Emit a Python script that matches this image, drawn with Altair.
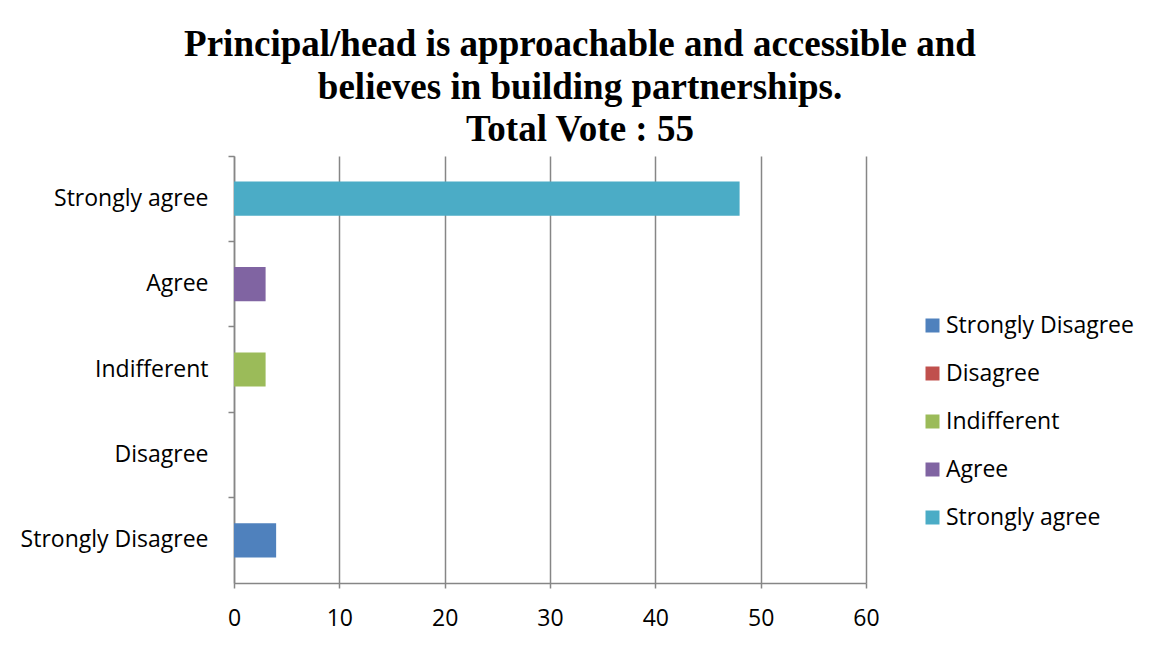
import altair as alt
import pandas as pd

categories = ["Strongly Disagree", "Disagree", "Indifferent", "Agree", "Strongly agree"]
votes = [4, 0, 3, 3, 48]
colors = ["#4F81BD", "#C0504D", "#9BBB59", "#8064A2", "#4BACC6"]
x_ticks = [0, 10, 20, 30, 40, 50, 60]
title_lines = [
    "Principal/head is approachable and accessible and",
    "believes in building partnerships.",
    "Total Vote : 55",
]

df = pd.DataFrame({"category": categories, "votes": votes})

LABEL_FONT = "Open Sans"
GRAY = "#868686"

chart = (
    alt.Chart(df)
    .mark_bar(height=alt.RelativeBandSize(0.4))
    .encode(
        x=alt.X(
            "votes:Q",
            scale=alt.Scale(domain=[0, 60], nice=False),
            axis=alt.Axis(
                values=x_ticks,
                title=None,
                grid=True,
                gridColor=GRAY,
                gridWidth=1.5,
                domainColor=GRAY,
                domainWidth=1.5,
                tickColor=GRAY,
                tickWidth=1.5,
                tickSize=5,
                labelFont=LABEL_FONT,
                labelFontSize=23,
                labelColor="black",
                labelPadding=19,
                labelFlush=False,
            ),
        ),
        y=alt.Y(
            "category:N",
            sort=categories[::-1],
            scale=alt.Scale(paddingInner=0, paddingOuter=0),
            axis=alt.Axis(
                title=None,
                bandPosition=0,
                domainColor=GRAY,
                domainWidth=1.5,
                tickColor=GRAY,
                tickWidth=1.5,
                tickSize=6,
                labelFont=LABEL_FONT,
                labelFontSize=23,
                labelColor="black",
                labelPadding=20,
                labelAlign="right",
                labelLimit=300,
            ),
        ),
        color=alt.Color(
            "category:N",
            scale=alt.Scale(domain=categories, range=colors),
            legend=alt.Legend(
                title=None,
                orient="none",
                legendX=687,
                legendY=158,
                symbolType="square",
                symbolSize=196,
                symbolStrokeWidth=0,
                labelFont=LABEL_FONT,
                labelFontSize=23,
                labelColor="black",
                labelOffset=2,
                labelLimit=300,
                rowPadding=24,
            ),
        ),
    )
    .properties(
        width=632,
        height=427,
        autosize=alt.AutoSizeParams(type="none"),
        padding={"left": 226, "top": 148, "right": 286, "bottom": 54},
        title=alt.TitleParams(
            text=title_lines,
            font="Liberation Serif",
            fontSize=37,
            fontWeight="bold",
            lineHeight=42.5,
            color="black",
            anchor="middle",
            dx=30,
            offset=6,
        ),
    )
    .configure_view(stroke=None)
)

chart.save("out.html", embed_options={"renderer": "svg", "actions": False})
